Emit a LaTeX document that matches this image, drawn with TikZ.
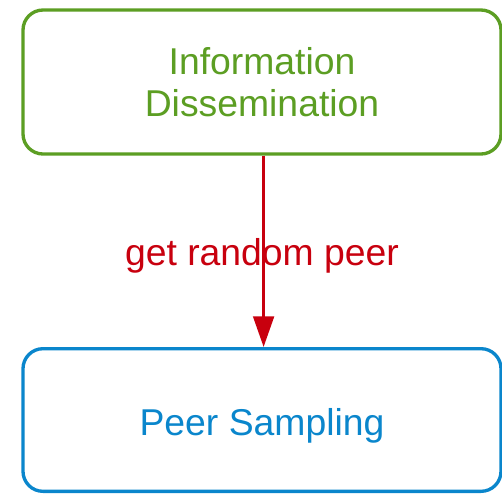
\documentclass[tikz,border=0pt]{standalone}
\usepackage{fontspec}
\setmainfont{Liberation Sans}
\usetikzlibrary{arrows.meta}
\definecolor{infogreen}{HTML}{5C9E23}
\definecolor{samplblue}{HTML}{0A86CC}
\definecolor{callred}{HTML}{C8000E}
\begin{document}
\begin{tikzpicture}[x=0.75pt,y=-0.75pt,
  layer/.style={draw, line width=2.5pt, rounded corners=15pt, fill=white,
    font=\fontsize{28}{31.5}\selectfont, align=center,
    minimum width=358.5pt, inner sep=0pt},
  call/.style={draw=callred, line width=2.25pt,
    -{Triangle[length=23pt,width=15.5pt]}}]
\useasboundingbox (0,0) rectangle (502,493);
\node[layer, draw=infogreen, text=infogreen, minimum height=108pt]
  (info) at (262,82) {Information\\Dissemination};
\node[layer, draw=samplblue, text=samplblue, minimum height=107pt,
  text height=23pt, text depth=0pt]
  (peer) at (262,420) {Peer Sampling};
\node[text=callred, font=\fontsize{28}{31.5}\selectfont, anchor=base,
  inner sep=0pt] (lbl) at (262,265) {get random peer};
\draw[call] ([xshift=1.2pt]info.south) -- ([xshift=1.2pt]peer.north);
\end{tikzpicture}
\end{document}
